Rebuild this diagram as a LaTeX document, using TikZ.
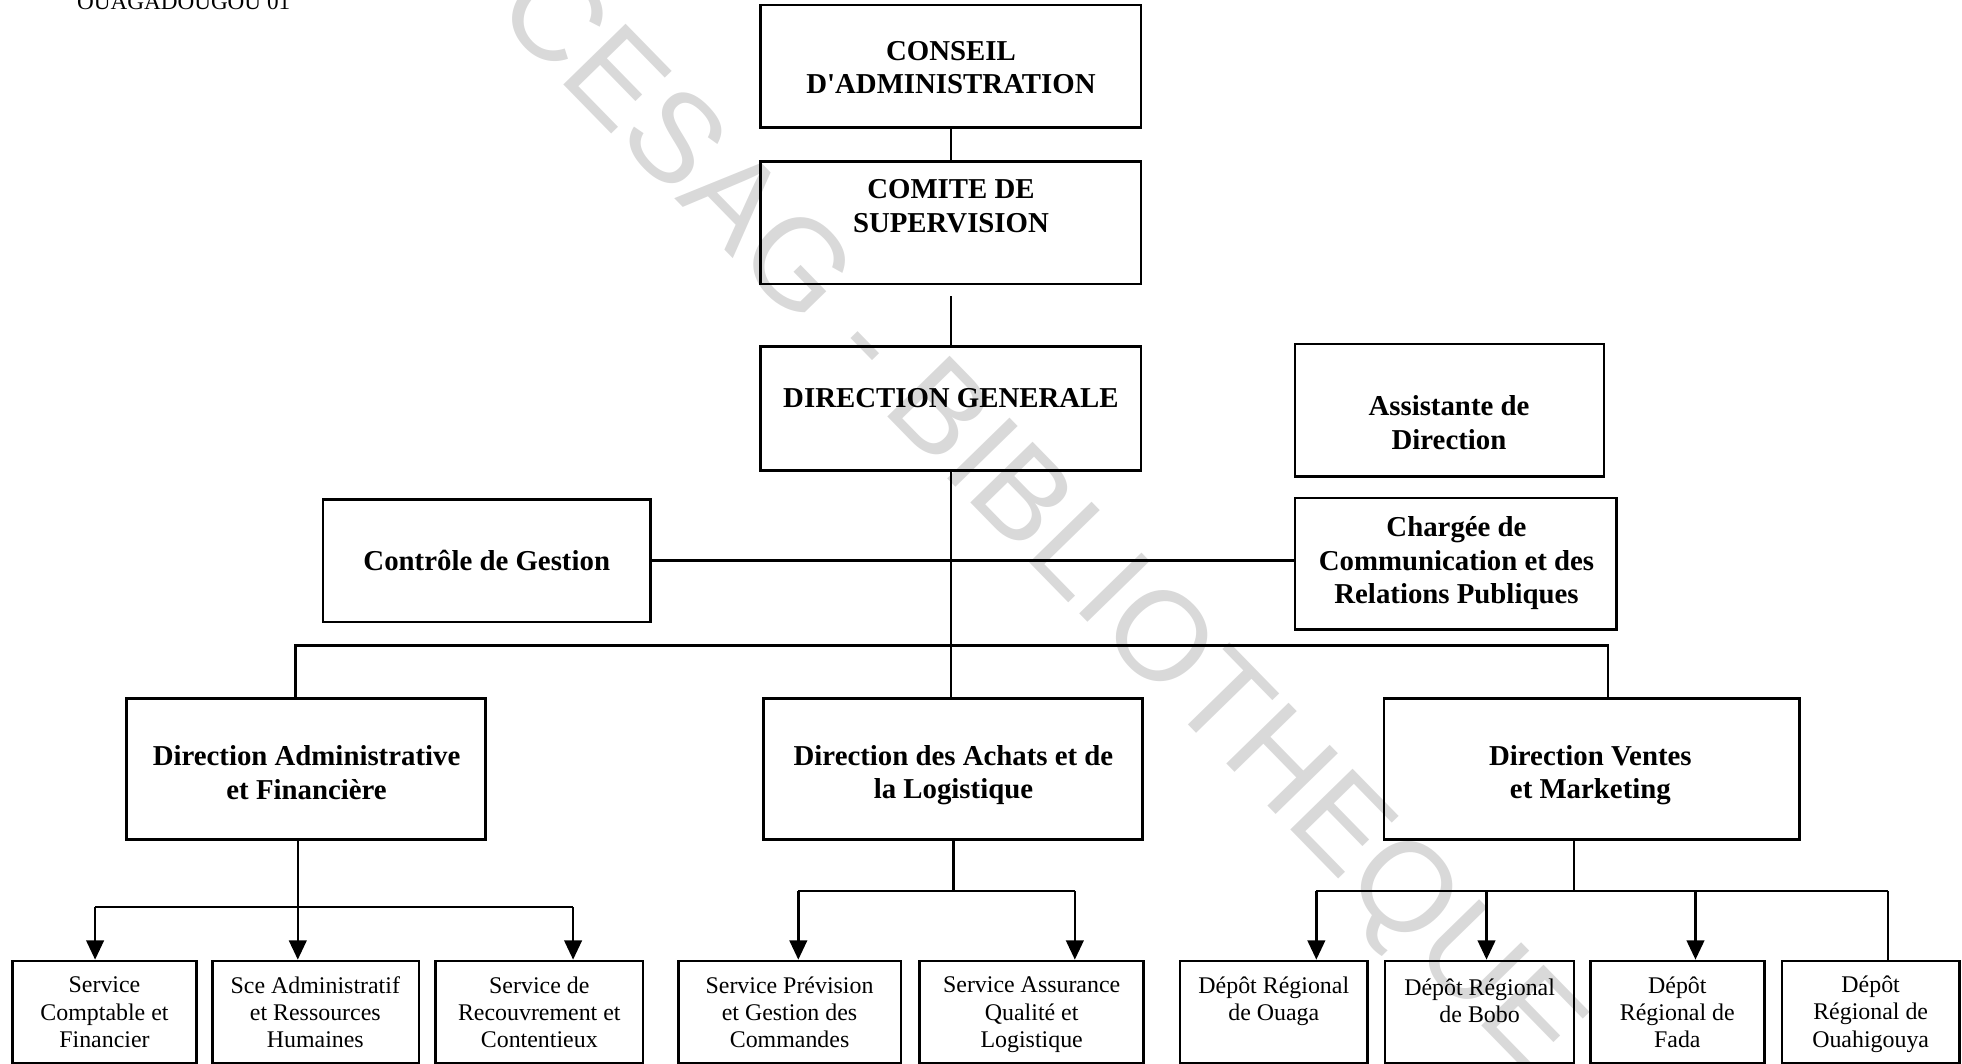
\documentclass[tikz,border=0pt]{standalone}
\usepackage{fontspec}
\setmainfont{Liberation Serif}
\newfontfamily\wmfont{Liberation Sans}
\usetikzlibrary{arrows.meta,fit,calc}
\begin{document}
\begin{tikzpicture}[x=0.12513mm, y=-0.12513mm,
  box/.style={draw, line width=0.75pt, inner sep=0pt},
  hdr/.style={font=\bfseries\fontsize{8.2}{9.6}\selectfont, align=center, inner sep=0pt},
  sub/.style={font=\fontsize{6.8}{7.8}\selectfont, align=center, inner sep=0pt},
  conn/.style={line width=0.7pt},
  arr/.style={conn, -{Triangle[length=5.5pt,width=5pt]}},
]
\useasboundingbox (0,0) rectangle (1568,850);

% watermark
\node[text=black!15, font=\wmfont\fontsize{36}{36}\selectfont, rotate=-45.7, inner sep=0pt] (wm) at (828,418) {CESAG - BIBLIOTHEQUE};

% clipped header text
\node[anchor=base west, font=\fontsize{6.6}{7}\selectfont, inner sep=0pt] (addr) at (61,7.5) {OUAGADOUGOU 01};

% top chain
\node[box, fit={(608,4) (912,102)}] (ca) {};
\node[hdr] (ca-t) at (760,54) {CONSEIL\\D\textquotesingle ADMINISTRATION};
\node[box, fit={(608,129) (912,227)}] (cs) {};
\node[hdr] (cs-t) at (760,164.5) {COMITE DE\\SUPERVISION};
\node[box, fit={(608,277) (912,376)}] (dg) {};
\node[hdr] (dg-t) at (760,318) {DIRECTION GENERALE};

% staff
\node[box, fit={(1035,275) (1282,381)}] (ad) {};
\node[hdr] (ad-t) at (1158,338) {Assistante de\\Direction};
\node[box, fit={(258,399) (520,497)}] (cg) {};
\node[hdr] (cg-t) at (389,448) {Contrôle de Gestion};
\node[box, fit={(1035,398) (1292,503)}] (chg) {};
\node[hdr] (chg-t) at (1164,450) {Chargée de\\Communication et des\\Relations Publiques};

% directions
\node[box, fit={(101,558) (388,671)}] (daf) {};
\node[hdr] (daf-t) at (245,617.5) {Direction Administrative\\et Financière};
\node[box, fit={(610,558) (913,671)}] (ach) {};
\node[hdr] (ach-t) at (762,619.5) {Direction des Achats et de\\la Logistique};
\node[box, fit={(1106,558) (1438,671)}] (dvm) {};
\node[hdr] (dvm-t) at (1271,619.5) {Direction Ventes\\et Marketing};

% services
\node[box, fit={(10,768) (157,850)}] (sc) {};
\node[sub] (sc-t) at (83.5,809) {Service\\Comptable et\\Financier};
\node[box, fit={(170,768) (335,850)}] (sar) {};
\node[sub] (sar-t) at (252,809) {Sce Administratif\\et Ressources\\Humaines};
\node[box, fit={(348,768) (514,850)}] (sr) {};
\node[sub] (sr-t) at (431,809) {Service de\\Recouvrement et\\Contentieux};
\node[box, fit={(542,768) (720,850)}] (sp) {};
\node[sub] (sp-t) at (631,809) {Service Prévision\\et Gestion des\\Commandes};
\node[box, fit={(735,768) (914,850)}] (saq) {};
\node[sub] (saq-t) at (824.5,811) {Service Assurance\\Qualité et\\Logistique};
\node[box, fit={(943,768) (1093,850)}] (do) {};
\node[sub] (do-t) at (1018,800) {Dépôt Régional\\de Ouaga};
\node[box, fit={(1107,768) (1258,850)}] (db) {};
\node[sub] (db-t) at (1182.5,800) {Dépôt Régional\\de Bobo};
\node[box, fit={(1271,768) (1410,850)}] (df) {};
\node[sub] (df-t) at (1340.5,809) {Dépôt\\Régional de\\Fada};
\node[box, fit={(1424,768) (1566,850)}] (dou) {};
\node[sub] (dou-t) at (1495,810.5) {Dépôt\\Régional de\\Ouahigouya};

% connectors top
\draw[conn] (ca.south) -- (cs.north);
\draw[conn] ([yshift=-1.1mm]cs.south) -- (dg.north);
\draw[conn] (dg.south) -- (dg.south |- ach.north);
\draw[conn] (cg.east) -- (cg.east -| chg.west);
\coordinate (bl) at (236,516);
\coordinate (br) at (1285,516);
\draw[conn] (daf.north -| bl) -- (bl) -- (br) -- (dvm.north -| br);

% DAF children
\coordinate (dj) at (238,725);
\coordinate (d1) at (76,725);
\coordinate (d3) at (458,725);
\draw[conn] (daf.south -| dj) -- (dj);
\draw[conn] (d1) -- (d3);
\draw[arr] (d1) -- (d1 |- sc.north);
\draw[arr] (dj) -- (dj |- sar.north);
\draw[arr] (d3) -- (d3 |- sr.north);

% Achats children
\coordinate (aj) at (762,712);
\coordinate (a1) at (638,712);
\coordinate (a2) at (859,712);
\draw[conn] (ach.south -| aj) -- (aj);
\draw[conn] (a1) -- (a2);
\draw[arr] (a1) -- (a1 |- sp.north);
\draw[arr] (a2) -- (a2 |- saq.north);

% DVM children
\coordinate (vj) at (1258,712);
\coordinate (v1) at (1052,712);
\coordinate (v2) at (1188,712);
\coordinate (v3) at (1355,712);
\coordinate (v4) at (1509,712);
\draw[conn] (dvm.south -| vj) -- (vj);
\draw[conn] (v1) -- (v4);
\draw[arr] (v1) -- (v1 |- do.north);
\draw[arr] (v2) -- (v2 |- db.north);
\draw[arr] (v3) -- (v3 |- df.north);
\draw[conn] (v4) -- (v4 |- dou.north);
\end{tikzpicture}
\end{document}
